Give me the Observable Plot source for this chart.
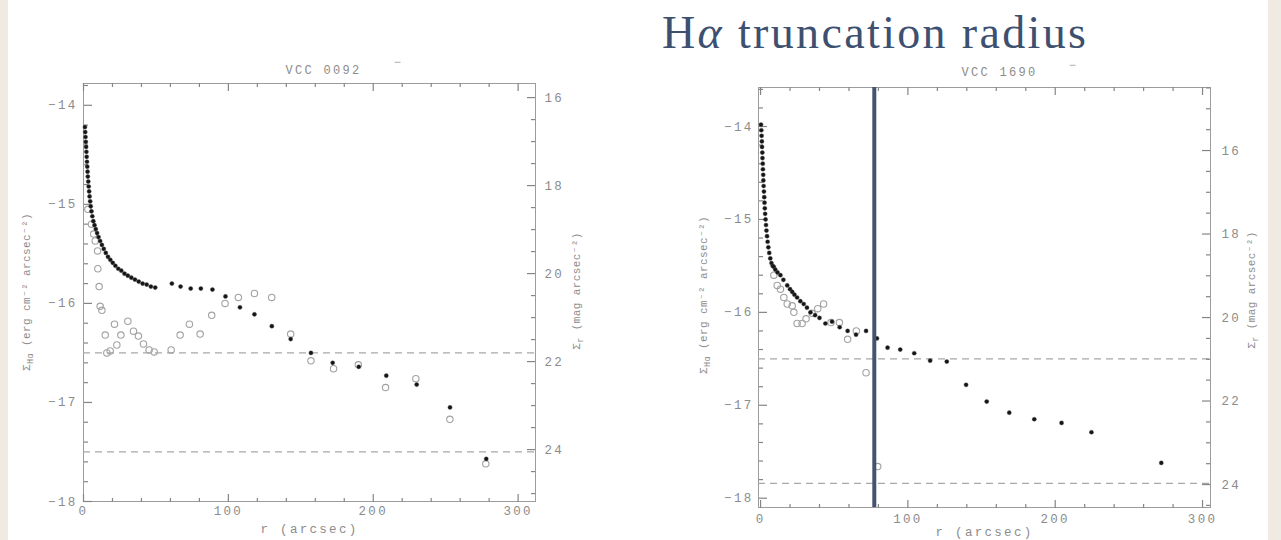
<!DOCTYPE html>
<html><head><meta charset="utf-8">
<script src="https://cdn.jsdelivr.net/npm/d3@7"></script>
<script src="https://cdn.jsdelivr.net/npm/@observablehq/plot@0.6"></script>
<style>
html,body{margin:0;padding:0;}
body{width:1281px;height:540px;background:#efebe3;position:relative;overflow:hidden;}
#paper{position:absolute;left:8px;top:0;width:1260px;height:540px;background:#fff;}
.panel{position:absolute;top:0;height:540px;}
.panel svg{position:absolute;left:0;top:0;max-width:none !important;}
</style>
</head><body>
<div id="paper"></div>
<div class="panel" id="p1" style="left:0;width:640px;"></div>
<div class="panel" id="p2" style="left:640px;width:641px;"></div>
<script>
// ---------- data ----------
const mainTitle = "truncation radius";
const xLabel = "r (arcsec)";
const xMajorTicks = [0, 100, 200, 300];
const fluxMajorTicks = [-14, -15, -16, -17, -18];
const magMajorTicks = [16, 18, 20, 22, 24];

// VCC 0092 : filled = H-alpha profile, open = r-band profile  [r (arcsec), log flux]
const vcc0092Filled = [
  [1.0,-14.22],[1.2,-14.27],[1.4,-14.32],[1.6,-14.37],[1.8,-14.42],[2.0,-14.47],[2.2,-14.52],[2.4,-14.57],
  [2.6,-14.62],[2.8,-14.67],[3.0,-14.72],[3.3,-14.77],[3.6,-14.82],[3.9,-14.87],[4.2,-14.92],[4.6,-14.97],
  [5.0,-15.02],[5.5,-15.07],[6.1,-15.12],[6.8,-15.17],[7.6,-15.21],[8.5,-15.25],[9.4,-15.29],[10.4,-15.33],
  [11.5,-15.37],[12.7,-15.41],[14.0,-15.45],[15.4,-15.49],[16.9,-15.53],[18.5,-15.56],[20.2,-15.59],[22.0,-15.62],
  [24.0,-15.65],[26.1,-15.67],[28.3,-15.70],[30.6,-15.72],[33.0,-15.74],[35.5,-15.76],[38.1,-15.78],[40.8,-15.80],
  [43.6,-15.81],[46.5,-15.83],[49.5,-15.84],
  [61,-15.80],[67,-15.83],[74,-15.85],[81,-15.85],[89,-15.86],[98,-15.93],[108,-16.04],[118,-16.11],
  [130,-16.23],[143,-16.36],[157,-16.50],[172,-16.60],[190,-16.64],[209,-16.73],[230,-16.82],[253,-17.05],[278,-17.57]
];
const vcc0092Open = [
  [3,-15.05],[5.5,-15.2],[7,-15.3],[8.1,-15.37],[9.7,-15.47],[9.9,-15.65],[10.8,-15.83],[11.5,-16.03],[12.7,-16.07],
  [15,-16.32],[16.1,-16.50],[18.4,-16.48],[21.4,-16.21],[23,-16.42],[25.8,-16.32],[30.6,-16.18],[34.5,-16.28],
  [37.9,-16.33],[41.4,-16.41],[45.3,-16.47],[48.8,-16.49],[60.5,-16.47],[66.7,-16.32],[73.1,-16.21],[80.5,-16.31],
  [88.5,-16.12],[97.7,-16.00],[106.9,-15.94],[118,-15.90],[129.9,-15.94],[143,-16.31],[157,-16.58],[172.6,-16.66],
  [189.7,-16.62],[208.5,-16.85],[229.4,-16.76],[252.9,-17.17],[277.7,-17.62]
];
const vcc0092Limits = [-16.5, -17.5];

// VCC 1690
const vcc1690Filled = [
  [0.3,-13.98],[0.5,-14.04],[0.7,-14.10],[0.9,-14.16],[1.0,-14.22],[1.2,-14.28],[1.3,-14.34],[1.5,-14.40],
  [1.6,-14.46],[1.8,-14.52],[1.9,-14.58],[2.1,-14.64],[2.3,-14.70],[2.5,-14.76],[2.7,-14.82],[2.9,-14.88],
  [3.1,-14.94],[3.4,-15.00],[3.7,-15.06],[4.0,-15.12],[4.4,-15.18],[4.8,-15.24],[5.3,-15.30],[5.9,-15.36],
  [6.6,-15.42],[7.4,-15.47],[8.2,-15.50],[9.0,-15.51],[10,-15.54],[11.5,-15.57],[13.5,-15.60],[15.5,-15.65],
  [18.1,-15.71],[20,-15.75],[21.5,-15.78],[23,-15.81],[24.8,-15.84],[27,-15.88],[29.3,-15.91],[31.5,-15.95],
  [33.9,-16.00],[37,-16.03],[40,-16.06],[44,-16.12],[48.5,-16.10],[53.7,-16.16],[59.1,-16.20],[64.8,-16.24],
  [71.6,-16.20],[79,-16.28],[86.2,-16.38],[94.8,-16.40],[104.3,-16.44],[115.1,-16.52],[126.4,-16.53],
  [139.5,-16.78],[153.5,-16.96],[168.8,-17.08],[185.8,-17.15],[204.3,-17.19],[224.6,-17.29],[272,-17.62]
];
const vcc1690Open = [
  [9,-15.60],[11.3,-15.71],[13.5,-15.75],[15.8,-15.84],[18.1,-15.91],[21.5,-15.93],[22.6,-16.00],[24.8,-16.12],
  [28.2,-16.12],[30.9,-16.07],[35,-16.01],[38.8,-15.96],[42.8,-15.91],[47.8,-16.11],[53.5,-16.11],[59.1,-16.29],
  [65,-16.20],[71.6,-16.65],[79.5,-17.66]
];
const vcc1690Limits = [-16.5, -17.84];
const vcc1690Truncation = 77.2;

// ---------- drawing ----------
const GRAY = "#8c8c8c";
const TICK = "#858585";
const FONT = "Liberation Mono, DejaVu Sans Mono, monospace";
const minorX = d3.range(0, 320, 20).filter(v => !xMajorTicks.includes(v));
const intFmt = d3.format("d");

function addRotLabel(svg, x, y, main, sub, rest) {
  const t = d3.select(svg).append("text")
    .attr("transform", `translate(${x},${y}) rotate(-90)`)
    .attr("text-anchor", "middle")
    .attr("font-family", FONT).attr("font-size", 11)
    .style("letter-spacing", "0.4px")
    .attr("fill", GRAY);
  t.append("tspan").text(main);
  t.append("tspan").attr("dy", 3).attr("font-size", 8.5).text(sub);
  t.append("tspan").attr("dy", -3).text(rest);
}

// inward ticks: draw the tick glyph of the opposite side at the given frame edge
function inTicksX(edge, ticks, size) {
  return Plot.axisX({anchor: edge === "bottom" ? "top" : "bottom", frameAnchor: edge, ticks, tickSize: size,
                     tickFormat: () => "", label: null, stroke: TICK, strokeWidth: 1.2});
}
function inTicksY(edge, ticks, size) {
  return Plot.axisY({anchor: edge === "left" ? "right" : "left", frameAnchor: edge, ticks, tickSize: size,
                     tickFormat: () => "", label: null, stroke: TICK, strokeWidth: 1.2});
}

function panel(el, cfg) {
  const {width, height, m, xDomain, yDomain, magDomain, filled, open, limits, title, trunc,
         titleDx, titleDy, dashDx, dashDy, xLabelDy, leftPad, rightPad, bottomPad, yLab, magLab} = cfg;
  const fluxMinor = d3.range(-18.2, -13.4, 0.2).map(v => +v.toFixed(1))
    .filter(v => v >= yDomain[0] && v <= yDomain[1] && !fluxMajorTicks.includes(v));
  const magMinor = d3.range(14, 26, 0.5)
    .filter(v => v >= magDomain[0] && v <= magDomain[1] && !magMajorTicks.includes(v));
  const style = {fontFamily: FONT, fontSize: "12.5px", color: GRAY, background: "transparent",
                 overflow: "visible", letterSpacing: "2.3px"};
  const main = Plot.plot({
    width, height, marginTop: m[0], marginRight: m[1], marginBottom: m[2], marginLeft: m[3],
    x: {domain: xDomain}, y: {domain: yDomain}, style,
    marks: [
      Plot.frame({stroke: "#9c9c9c"}),
      Plot.ruleY(limits, {stroke: "#a8a8a8", strokeWidth: 1.3, strokeDasharray: "7,5"}),
      Plot.axisX({anchor: "bottom", ticks: xMajorTicks, tickSize: 0, tickPadding: bottomPad, label: null, tickFormat: intFmt}),
      inTicksX("bottom", xMajorTicks, 8),
      inTicksX("bottom", minorX, 4),
      inTicksX("top", xMajorTicks, 8),
      inTicksX("top", minorX, 4),
      Plot.axisY({anchor: "left", ticks: fluxMajorTicks, tickSize: 0, tickPadding: leftPad, label: null, tickFormat: intFmt}),
      inTicksY("left", fluxMajorTicks, 8),
      inTicksY("left", fluxMinor, 4),
      Plot.dot(open, {x: d => d[0], y: d => d[1], r: 3.2, stroke: "#a2a2a2", strokeWidth: 1.1, fill: "none"}),
      Plot.dot(filled, {x: d => d[0], y: d => d[1], r: 2.1, fill: "#151515", stroke: "#555", strokeWidth: 0.4}),
      trunc != null ? Plot.ruleX([trunc], {stroke: "#45546e", strokeWidth: 4}) : null,
      Plot.text([title], {frameAnchor: "top", dx: titleDx, dy: titleDy, fontSize: 12, fill: GRAY}),
      Plot.text(["−"], {frameAnchor: "top", dx: dashDx, dy: dashDy, fontSize: 12, fill: "#aaa"}),
      Plot.text([xLabel], {frameAnchor: "bottom", dy: xLabelDy, fontSize: 12.5, fill: GRAY})
    ]
  });
  const mag = Plot.plot({
    width, height, marginTop: m[0], marginRight: m[1], marginBottom: m[2], marginLeft: m[3],
    y: {domain: magDomain, reverse: true}, style,
    marks: [
      Plot.axisY({anchor: "right", ticks: magMajorTicks, tickSize: 0, tickPadding: rightPad, label: null, tickFormat: intFmt}),
      inTicksY("right", magMajorTicks, 8),
      inTicksY("right", magMinor, 4)
    ]
  });
  el.append(main);
  el.append(mag);
  addRotLabel(main, yLab[0], yLab[1], "Σ", "Hα", " (erg cm⁻² arcsec⁻²)");
  addRotLabel(mag, magLab[0], magLab[1], "Σ", "r", " (mag arcsec⁻²)");
  return main;
}

panel(document.getElementById("p1"), {
  width: 640, height: 540, m: [83, 105, 39, 83],
  xDomain: [0, 312], yDomain: [-18, -13.78], magDomain: [15.68, 25.18],
  filled: vcc0092Filled, open: vcc0092Open, limits: vcc0092Limits, title: "VCC 0092", trunc: null,
  titleDx: 14, titleDy: -18, dashDx: 89, dashDy: -26, xLabelDy: 31,
  leftPad: 6, rightPad: 9, bottomPad: 5, yLab: [30, 292], magLab: [580, 291]
});
const right = panel(document.getElementById("p2"), {
  width: 641, height: 540, m: [87, 71, 33, 118],
  xDomain: [-1.4, 305.4], yDomain: [-18.10, -13.58], magDomain: [14.49, 24.55],
  filled: vcc1690Filled, open: vcc1690Open, limits: vcc1690Limits, title: "VCC 1690", trunc: vcc1690Truncation,
  titleDx: 15, titleDy: -20, dashDx: 89, dashDy: -27, xLabelDy: 28,
  leftPad: 5, rightPad: 11, bottomPad: 7, yLab: [67, 295], magLab: [615, 290]
});

// slide title
const tt = d3.select(right).append("text")
  .attr("x", 22).attr("y", 48)
  .attr("text-anchor", "start")
  .attr("font-family", "Liberation Serif, DejaVu Serif, serif").attr("font-size", 46)
  .attr("fill", "#3d5070").style("letter-spacing", "0px")
  .attr("textLength", 424).attr("lengthAdjust", "spacing");
tt.append("tspan").text("H");
tt.append("tspan").attr("font-style", "italic").text("α");
tt.append("tspan").text(" " + mainTitle);
</script>
</body></html>
